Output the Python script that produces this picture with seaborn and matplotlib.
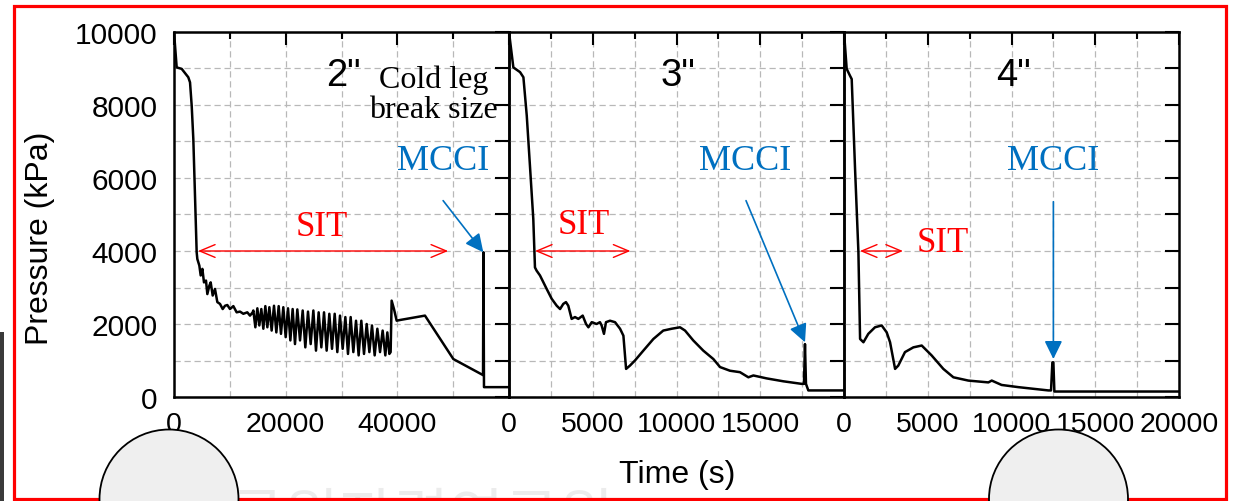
import numpy as np
import pandas as pd
import matplotlib
matplotlib.use("Agg")
import matplotlib.pyplot as plt
import seaborn as sns
from matplotlib.patches import Rectangle, Ellipse
from matplotlib.ticker import FixedLocator

# ---------------- data ----------------
break_labels = ['2"', '3"', '4"']

time_2in = [0, 480, 1380, 2560, 2870, 3170, 3460, 4060, 4180, 4540,
            4780, 5080, 5370, 5730, 5970, 6330, 6570, 6930, 7340, 7760,
            8240, 8720, 9140, 9550, 10030, 10630, 11220, 11820, 12420, 13130,
            13610, 14090,
            14210, 14570, 14930, 15280, 15640, 16000, 16360, 16720, 17080, 17490,
            17910, 18330, 18750, 19160, 19580, 20000, 20420, 20840, 21250, 21670,
            22090, 22570, 23050, 23520, 24000, 24480, 24960, 25430, 25910, 26390,
            26870, 27340, 27820, 28300, 28780, 29250, 29730, 30210, 30690, 31160,
            31640, 32120, 32600, 33070, 33550, 34030, 34510, 34990, 35460, 35940,
            36420, 36900, 37370, 37850, 38210, 38570,
            38800, 38980, 39400, 39880, 40500, 44950, 50030, 55350, 55420, 55520, 60000]
pres_2in = [10000, 9030, 8990, 8760, 8620, 7980, 7070, 3965, 3780, 3600,
            3330, 3510, 3140, 3190, 2820, 3050, 3140, 2780, 2960, 2600,
            2550, 2410, 2500, 2520, 2410, 2490, 2320, 2340, 2280, 2320,
            2230, 2320,
            2370, 1910, 2430, 1960, 2410, 1870, 2490, 1910, 2460, 1820,
            2500, 1770, 2490, 1730, 2460, 1640, 2430, 1550, 2410, 1450,
            2400, 1550, 2370, 1360, 2340, 1450, 2370, 1270, 2320, 1360,
            2320, 1270, 2280, 1320, 2280, 1230, 2230, 1320, 2190, 1180,
            2190, 1230, 2090, 1140, 2090, 1180, 2000, 1230, 1960, 1140,
            1870, 1230, 1820, 1140, 1770, 1180,
            1230, 2640, 2410, 2090, 2110, 2230, 1040, 600, 3965, 270, 270]

time_3in = [0, 260, 660, 860, 1060, 1250, 1450, 1550, 1650, 1850,
            2250, 2550, 2850, 3050, 3240, 3400, 3540, 3740, 3940, 4140,
            4400, 4600, 4740, 4940, 5230, 5430, 5530, 5670, 5790, 6030,
            6330, 6630, 6830, 6990, 7220, 7520, 8020, 8620, 9210, 9710,
            10210, 10510, 11000, 11600, 12200, 12600, 13190, 13790, 14290, 14590,
            15380, 16380, 17470, 17610, 17670, 17730, 17870, 20000]
pres_3in = [10000, 9030, 8900, 8760, 7710, 6340, 4880, 3550, 3460, 3330,
            2960, 2690, 2500, 2410, 2550, 2600, 2500, 2140, 2190, 2140,
            2230, 2000, 1910, 2050, 2000, 2050, 1960, 1730, 2050, 2090,
            2050, 1870, 1680, 770, 860, 1000, 1270, 1590, 1820, 1870,
            1910, 1820, 1550, 1270, 1040, 820, 720, 680, 540, 590,
            510, 430, 360, 360, 1450, 360, 180, 180]

time_4in = [0, 160, 360, 460, 660, 860, 960, 1160, 1450, 1850,
            2250, 2550, 2750, 3050, 3240, 3640, 4140, 4640, 5230, 5930,
            6530, 7420, 8620, 8820, 9410, 10410, 11400, 12200, 12360, 12440,
            12500, 12560, 20000]
pres_4in = [10000, 8990, 8800, 8710, 6250, 3970, 1590, 1500, 1730, 1910,
            1960, 1770, 1500, 770, 860, 1230, 1360, 1410, 1140, 770,
            540, 450, 400, 450, 330, 270, 220, 180, 180, 950,
            950, 150, 150]

xmax = [60000, 20000, 20000]
x_major = [[0, 20000, 40000], [0, 5000, 10000, 15000], [0, 5000, 10000, 15000, 20000]]
x_minor = [[10000, 30000, 50000], [2500, 7500, 12500, 17500], [2500, 7500, 12500, 17500]]
y_ticks = [0, 1000, 2000, 3000, 4000, 5000, 6000, 7000, 8000, 9000, 10000]
y_labels = ['0', '', '2000', '', '4000', '', '6000', '', '8000', '', '10000']

# SIT spans (start, end) at 4000 kPa, MCCI arrow tail / head
sit_span = [(4300, 49100), (1550, 7250), (950, 3520)]
sit_text = [(26500, 4450), (4450, 4480), (5900, 4000)]
mcci_text = [(48200, 6250), (14100, 6250), (12500, 6250)]
mcci_tail = [(48200, 5380), (14150, 5380), (12500, 5350)]
mcci_head = [(55400, 3964), (17672, 1499), (12500, 1041)]

series = [(time_2in, pres_2in), (time_3in, pres_3in), (time_4in, pres_4in)]

# ---------------- styling ----------------
sns.set_style("white")
plt.rcParams['font.family'] = ['Liberation Sans', 'DejaVu Sans']
plt.rcParams['text.color'] = 'black'
plt.rcParams['axes.labelcolor'] = 'black'
plt.rcParams['xtick.color'] = 'black'
plt.rcParams['ytick.color'] = 'black'
SERIF = ['Liberation Serif', 'DejaVu Serif']
BLUE = '#0070C0'
RED = '#FF0000'

W, H = 1236, 502
fig = plt.figure(figsize=(W / 100, H / 100), dpi=100)
fig.patch.set_facecolor('white')


def add_ax(x0, x1, y0=33, y1=398):
    return fig.add_axes([x0 / W, 1 - y1 / H, (x1 - x0) / W, (y1 - y0) / H])


axes = [add_ax(174, 509), add_ax(509, 844), add_ax(844, 1179)]

for i, ax in enumerate(axes):
    t, p = series[i]
    df = pd.DataFrame({'Time (s)': t, 'Pressure (kPa)': p})
    sns.lineplot(data=df, x='Time (s)', y='Pressure (kPa)', ax=ax, color='black',
                 lw=1.8, sort=False, estimator=None, zorder=5)
    ax.set_xlim(0, xmax[i])
    ax.set_ylim(0, 10000)
    ax.set_xlabel('')
    ax.set_ylabel('')
    ax.xaxis.set_major_locator(FixedLocator(x_major[i]))
    ax.xaxis.set_minor_locator(FixedLocator(x_minor[i]))
    ax.set_xticklabels([str(v) for v in x_major[i]])
    ax.set_yticks(y_ticks)
    if i == 0:
        ax.set_yticklabels(y_labels)
    else:
        ax.set_yticklabels([])
    ax.set_axisbelow(True)
    ax.grid(which='both', axis='both', color='#b8b8b8', ls=(0, (5, 3)), lw=0.9)
    ax.tick_params(which='both', direction='in', top=True, right=True,
                   width=1.5, color='black', labelcolor='black')
    ax.tick_params(axis='y', which='major', length=10, labelsize=21.5, pad=12)
    ax.tick_params(axis='x', which='major', length=9.5, labelsize=20.5, pad=10)
    ax.tick_params(axis='x', which='minor', length=5)
    for s in ax.spines.values():
        s.set_linewidth(1.8)
        s.set_color('black')
        s.set_visible(True)
    ax.patch.set_alpha(0)

    # break size label
    ax.text(0.505, 0.882, break_labels[i], transform=ax.transAxes, ha='center',
            va='center', fontsize=27.5, color='black', zorder=6)
    # SIT arrow + text
    s0, s1 = sit_span[i]
    ax.annotate('', xy=(s1, 4000), xytext=(s0, 4000),
                arrowprops=dict(arrowstyle='<->,head_length=0.55,head_width=0.23',
                                color=RED, lw=1.0, shrinkA=0, shrinkB=0,
                                mutation_scale=20), zorder=7)
    ax.text(sit_text[i][0], sit_text[i][1], 'SIT', color=RED, family=SERIF,
            fontsize=25, ha='center', va='baseline', zorder=7)
    # MCCI arrow + text
    ax.annotate('', xy=mcci_head[i], xytext=mcci_tail[i],
                arrowprops=dict(arrowstyle='-|>,head_length=0.55,head_width=0.27',
                                color=BLUE, lw=1.2, shrinkA=0, shrinkB=0,
                                mutation_scale=20), zorder=7)
    ax.text(mcci_text[i][0], mcci_text[i][1], 'MCCI', color=BLUE, family=SERIF,
            fontsize=26, ha='center', va='baseline', zorder=7)

axes[0].text(46500, 8300, 'Cold leg\nbreak size', family=SERIF, fontsize=23,
             ha='center', va='center', multialignment='center', linespacing=1.05,
             color='black', zorder=7)

fig.text(40 / W, 1 - 238 / H, 'Pressure (kPa)', rotation=90, ha='center',
         va='center', fontsize=23, color='black')
fig.text(677 / W, 1 - 483 / H, 'Time (s)', ha='center', va='baseline', fontsize=23,
         color='black')

# faint watermark
fig.text(175 / W, 1 - 537 / H, '한국원자력연구원', family=['Noto Sans CJK KR'],
         fontsize=43, color='#ececec', ha='left', va='baseline', zorder=-1)

# slide decorations: red frame, dark edge, grey circles
fig.add_artist(Rectangle((14 / W, 1 - 500 / H), (1226 - 14) / W, (500 - 7) / H,
                         transform=fig.transFigure, fill=False, ec=RED, lw=2.3,
                         zorder=9))
fig.add_artist(Rectangle((0, 0), 4 / W, (502 - 333) / H, transform=fig.transFigure,
                         fc='#3a3a3a', ec='none', zorder=9))
for cx in (169, 1058.5):
    fig.add_artist(Ellipse((cx / W, 1 - 500 / H), 139 / W, 139 / H,
                           transform=fig.transFigure, fc='#efefef', ec='black',
                           lw=1.3, zorder=10))

fig.savefig('out.png', dpi=100, facecolor='white')
